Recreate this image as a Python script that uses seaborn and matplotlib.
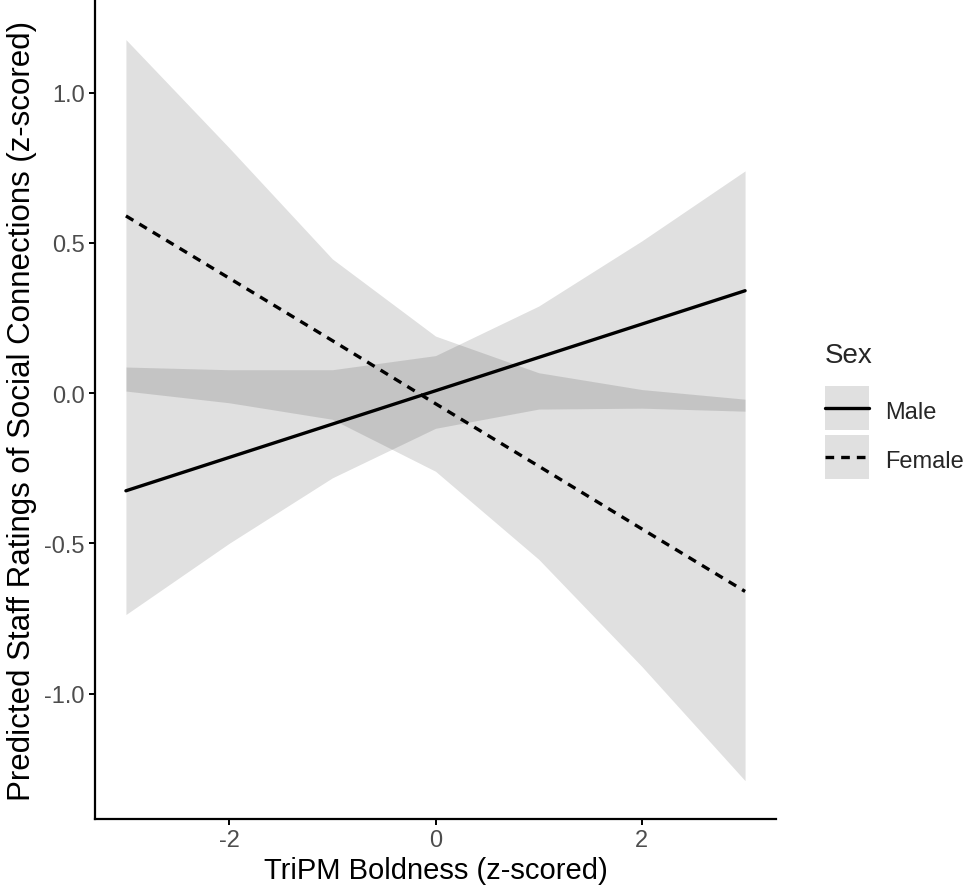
import matplotlib
matplotlib.use("Agg")
import matplotlib.pyplot as plt
from matplotlib.patches import Rectangle
from matplotlib.lines import Line2D
from matplotlib.legend_handler import HandlerPatch, HandlerLine2D
import pandas as pd
import seaborn as sns

# predicted values and 95% ribbons
boldness = [-3, -2, -1, 0, 1, 2, 3]

male_pred = [-0.325, -0.214, -0.103, 0.008, 0.119, 0.230, 0.341]
male_low = [-0.737, -0.500, -0.282, -0.117, -0.053, -0.050, -0.060]
male_high = [0.087, 0.078, 0.078, 0.125, 0.290, 0.507, 0.740]

female_pred = [0.590, 0.383, 0.175, -0.035, -0.243, -0.452, -0.660]
female_low = [0.007, -0.032, -0.087, -0.260, -0.553, -0.910, -1.290]
female_high = [1.177, 0.817, 0.447, 0.190, 0.068, 0.012, -0.020]

sexes = ["Male", "Female"]
y_ticks = [-1.0, -0.5, 0.0, 0.5, 1.0]
y_tick_labels = ["-1.0", "-0.5", "0.0", "0.5", "1.0"]
x_ticks = [-2, 0, 2]

KEY_SHIFT = 0.18  # move legend keys down a bit (fontsize units) to sit on the text


def key_box(legend, orig_handle, xdescent, ydescent, width, height, fontsize):
    # square grey key centred on the legend line
    side = width
    yc = (height - ydescent) / 2 - KEY_SHIFT * fontsize
    return Rectangle((-xdescent, yc - side / 2), width, side)


class ShiftedLine(HandlerLine2D):
    def create_artists(self, legend, orig_handle, xdescent, ydescent, width, height,
                       fontsize, trans):
        return super().create_artists(legend, orig_handle, xdescent,
                                      ydescent + 2 * KEY_SHIFT * fontsize,
                                      width, height, fontsize, trans)


def main():
    df = pd.DataFrame({
        "Boldness": boldness * 2,
        "Predicted": male_pred + female_pred,
        "Sex": ["Male"] * len(boldness) + ["Female"] * len(boldness),
    })

    sns.set_style("white")
    plt.rcParams["font.family"] = ["Liberation Sans", "DejaVu Sans"]

    fig = plt.figure(figsize=(9.68, 8.95), dpi=100)
    ax = fig.add_axes([0.0981, 0.0838, 0.7036, 0.9140])

    # confidence ribbons
    ax.fill_between(boldness, male_low, male_high, color="black", alpha=0.12, linewidth=0)
    ax.fill_between(boldness, female_low, female_high, color="black", alpha=0.12, linewidth=0)

    sns.lineplot(data=df, x="Boldness", y="Predicted", style="Sex", style_order=sexes,
                 dashes={"Male": "", "Female": (2.6, 2.1)}, color="black",
                 linewidth=2.4, legend=False, ax=ax)

    ax.set_xlim(-3.3, 3.3)
    ax.set_ylim(-1.4175, 1.3055)
    ax.set_xticks(x_ticks)
    ax.set_xticklabels([str(t) for t in x_ticks])
    ax.set_yticks(y_ticks)
    ax.set_yticklabels(y_tick_labels)

    sns.despine(ax=ax)
    for side in ["left", "bottom"]:
        ax.spines[side].set_color("black")
        ax.spines[side].set_linewidth(1.6)
    ax.tick_params(axis="both", which="major", length=4.5, width=1.4, color="black",
                   labelsize=17, labelcolor="#4D4D4D", pad=3, left=True, bottom=True)

    ax.set_xlabel("TriPM Boldness (z-scored)", fontsize=21, color="black", labelpad=3)
    ax.set_ylabel("Predicted Staff Ratings of Social Connections (z-scored)",
                  fontsize=22.5, color="black", labelpad=5)

    # legend: grey key box with line drawn on top
    handles = []
    for sex in sexes:
        box = Rectangle((0, 0), 1, 1, facecolor="black", alpha=0.12, linewidth=0)
        ls = "-" if sex == "Male" else (0, (2.6, 2.1))
        line = Line2D([], [], color="black", linewidth=2.4, linestyle=ls)
        handles.append((box, line))
    leg = fig.legend(handles, sexes, title="Sex", loc="upper left",
                     bbox_to_anchor=(0.840, 0.630), frameon=False,
                     handler_map={Rectangle: HandlerPatch(patch_func=key_box),
                                  Line2D: ShiftedLine()},
                     fontsize=17, title_fontsize=20, handlelength=1.86, handleheight=2.465,
                     labelspacing=0.23, handletextpad=0.7, borderpad=0, alignment="left")
    # more room between the title and the keys than between the keys
    leg._legend_box.sep = 15

    fig.savefig("out.png", dpi=100)


if __name__ == "__main__":
    main()
